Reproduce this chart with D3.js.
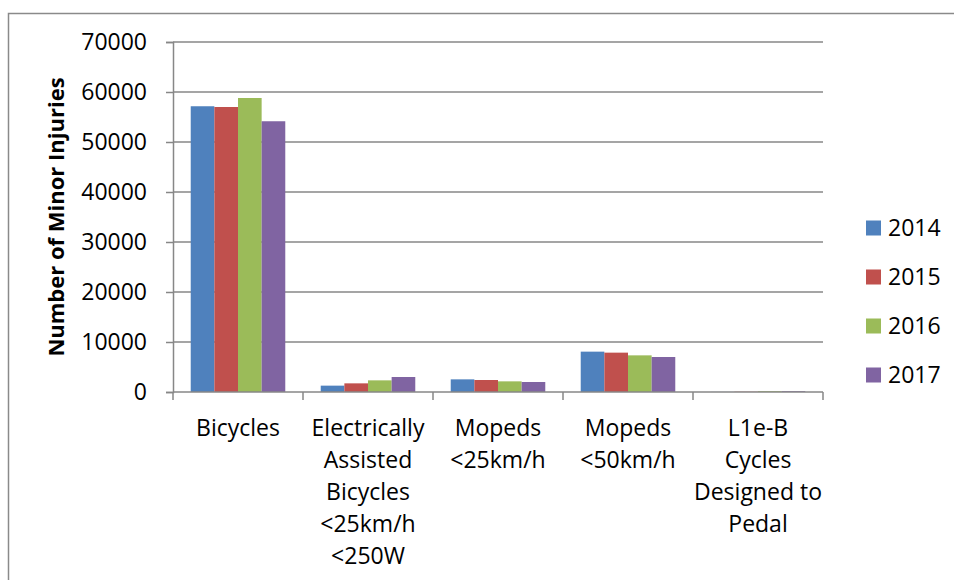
<!DOCTYPE html>
<html>
<head>
<meta charset="utf-8">
<script src="https://cdn.jsdelivr.net/npm/d3@7/dist/d3.min.js"></script>
<style>
  html, body { margin: 0; padding: 0; background: #fff; }
  svg { display: block; }
  text { font-family: "Open Sans", "Liberation Sans", sans-serif; fill: #000; }
</style>
</head>
<body>
<svg id="chart" width="954" height="580"></svg>
<script>
// Vehicle categories (line breaks mark how each axis label wraps)
const categories = [
  "Bicycles",
  "Electrically\nAssisted\nBicycles\n<25km/h\n<250W",
  "Mopeds\n<25km/h",
  "Mopeds\n<50km/h",
  "L1e-B\nCycles\nDesigned to\nPedal"
];
const years = ["2014", "2015", "2016", "2017"];

// Minor injuries per category, one array per year
const v2014 = [57150, 1270, 2530, 8070, 20];
const v2015 = [57000, 1730, 2400, 7870, 60];
const v2016 = [58800, 2330, 2130, 7330, 160];
const v2017 = [54150, 3000, 2000, 7000, 170];

const yTicks = [0, 10000, 20000, 30000, 40000, 50000, 60000, 70000];
const colors = ["#4F81BD", "#C0504D", "#9BBB59", "#8064A2"];
const yTitle = "Number of Minor Injuries";

const series = [v2014, v2015, v2016, v2017];

const svg = d3.select("#chart");
const plot = { left: 173, right: 823, top: 42, bottom: 392 };
const gridColor = "#878787";
const fontSize = 23;

// Outer chart frame
svg.append("rect")
  .attr("x", 8.5).attr("y", 13.5)
  .attr("width", 1000).attr("height", 1000)
  .attr("fill", "none").attr("stroke", "#8a8a8a").attr("stroke-width", 1.5);

const x0 = d3.scaleBand()
  .domain(d3.range(categories.length))
  .range([plot.left, plot.right])
  .paddingInner(0).paddingOuter(0);

// Four bars fill 4 of 5.5 slots per group (gap of 1.5 bar widths)
const x1 = d3.scaleBand()
  .domain(d3.range(years.length))
  .range([0, x0.bandwidth()])
  .paddingInner(0)
  .paddingOuter(0.75);

const y = d3.scaleLinear().domain([0, 70000]).range([plot.bottom, plot.top]);

// Horizontal gridlines
svg.append("g")
  .selectAll("line")
  .data(yTicks.filter(t => t > 0))
  .join("line")
  .attr("x1", plot.left).attr("x2", plot.right)
  .attr("y1", d => y(d)).attr("y2", d => y(d))
  .attr("stroke", gridColor).attr("stroke-width", 1.5);

// Bars
const groups = svg.append("g")
  .selectAll("g")
  .data(categories.map((c, i) => ({ i, values: series.map(s => s[i]) })))
  .join("g")
  .attr("transform", d => `translate(${x0(d.i)},0)`);

groups.selectAll("rect")
  .data(d => d.values.map((v, k) => ({ v, k })))
  .join("rect")
  .attr("x", d => x1(d.k))
  .attr("width", x1.bandwidth())
  .attr("y", d => y(d.v))
  .attr("height", d => y(0) - y(d.v))
  .attr("fill", d => colors[d.k]);

// Y axis
const yAxis = d3.axisLeft(y)
  .tickValues(yTicks)
  .tickSize(7)
  .tickPadding(19)
  .tickFormat(d3.format("d"));

const gy = svg.append("g")
  .attr("transform", `translate(${plot.left},0)`)
  .call(yAxis);
gy.select(".domain").attr("stroke", gridColor).attr("stroke-width", 1.5);
gy.selectAll(".tick line").attr("stroke", gridColor).attr("stroke-width", 1.5);
gy.selectAll(".tick text")
  .attr("font-size", fontSize)
  .attr("font-family", "Open Sans, sans-serif")
  .attr("fill", "#000");

// X axis baseline and category boundary ticks
const gx = svg.append("g");
gx.append("line")
  .attr("x1", plot.left).attr("x2", plot.right)
  .attr("y1", y(0)).attr("y2", y(0))
  .attr("stroke", gridColor).attr("stroke-width", 1.5);
const bounds = d3.range(categories.length + 1).map(i =>
  i < categories.length ? x0(i) : x0(i - 1) + x0.bandwidth());
gx.selectAll("line.tk")
  .data(bounds)
  .join("line")
  .attr("class", "tk")
  .attr("x1", d => d).attr("x2", d => d)
  .attr("y1", y(0)).attr("y2", y(0) + 8)
  .attr("stroke", gridColor).attr("stroke-width", 1.5);

// Category labels
const lbl = gx.selectAll("text.cat")
  .data(categories.map((c, i) => ({ c, i })))
  .join("text")
  .attr("class", "cat")
  .attr("font-size", fontSize)
  .attr("text-anchor", "middle")
  .attr("transform", d => `translate(${x0(d.i) + x0.bandwidth() / 2},0)`);
lbl.selectAll("tspan")
  .data(d => d.c.split("\n"))
  .join("tspan")
  .attr("x", 0)
  .attr("y", (d, j) => 436 + j * 32)
  .text(d => d);

// Y axis title
svg.append("text")
  .attr("transform", `translate(64,217) rotate(-90)`)
  .attr("text-anchor", "middle")
  .attr("font-size", 22)
  .attr("font-weight", "bold")
  .text(yTitle);

// Legend
const legend = svg.append("g")
  .selectAll("g")
  .data(years.map((yr, k) => ({ yr, k })))
  .join("g")
  .attr("transform", d => `translate(866,${228 + d.k * 49})`);
legend.append("rect")
  .attr("x", 0).attr("y", -7.5)
  .attr("width", 15).attr("height", 15)
  .attr("fill", d => colors[d.k]);
legend.append("text")
  .attr("x", 22).attr("y", 0)
  .attr("dy", "0.36em")
  .attr("font-size", fontSize)
  .text(d => d.yr);
</script>
</body>
</html>
